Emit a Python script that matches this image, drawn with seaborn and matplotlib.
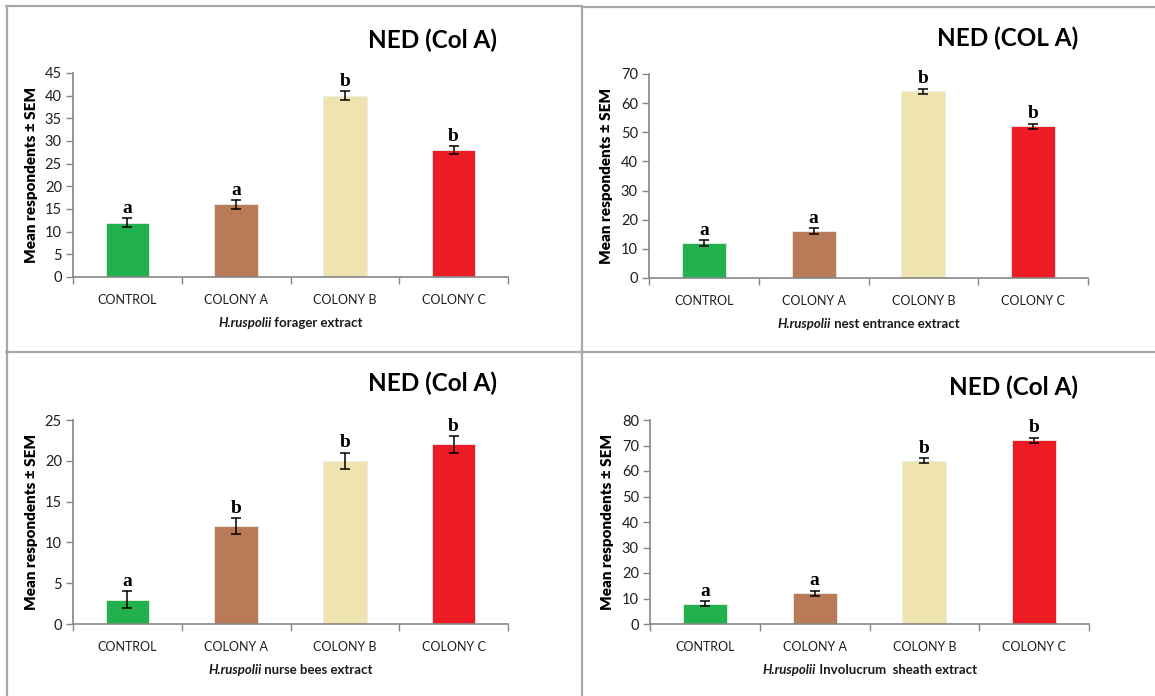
import matplotlib
matplotlib.use("Agg")
import matplotlib.pyplot as plt
from matplotlib.lines import Line2D
import seaborn as sns
import pandas as pd

# ---------------- data ----------------
categories = ["CONTROL", "COLONY A", "COLONY B", "COLONY C"]
colors = ["#22B14C", "#B97A57", "#EFE4B0", "#ED1C24"]

forager_mean = [12, 16, 40, 28]
forager_sem = [1, 1, 1, 0.9]
forager_letters = ["a", "a", "b", "b"]

nest_mean = [12, 16, 64, 52]
nest_sem = [1, 1, 1, 1]
nest_letters = ["a", "a", "b", "b"]

nurse_mean = [3, 12, 20, 22]
nurse_sem = [1, 1, 1, 1]
nurse_letters = ["a", "b", "b", "b"]

sheath_mean = [8, 12, 64, 72]
sheath_sem = [1, 1, 1, 1]
sheath_letters = ["a", "a", "b", "b"]

titles = ["NED (Col A)", "NED (COL A)", "NED (Col A)", "NED (Col A)"]
xlabel_italic = ["H.ruspolii", "H.ruspolii", "H.ruspolii", "H.ruspolii"]
xlabel_rest = [" forager extract", " nest entrance extract", " nurse bees extract",
               " Involucrum  sheath extract"]
ylabel = "Mean respondents \u00b1 SEM"
yticks_list = [list(range(0, 46, 5)), list(range(0, 71, 10)),
               list(range(0, 26, 5)), list(range(0, 81, 10))]

# ---------------- style ----------------
sns.set_theme(style="white")
plt.rcParams["font.family"] = ["Lato", "DejaVu Sans"]

W, H = 1155, 696
fig = plt.figure(figsize=(W / 100, H / 100), dpi=100)
fig.patch.set_facecolor("white")
renderer = fig.canvas.get_renderer()

# axes boxes in pixels: left, right, top, bottom
boxes = [(73, 508, 73, 277), (649, 1088, 74, 278),
         (73, 508, 420, 624), (650, 1089, 420, 624)]
title_pos = [(497, 40), (1078, 38), (497, 383), (1078, 387)]

datasets = [
    (forager_mean, forager_sem, forager_letters),
    (nest_mean, nest_sem, nest_letters),
    (nurse_mean, nurse_sem, nurse_letters),
    (sheath_mean, sheath_sem, sheath_letters),
]

axis_gray = "#868686"
tick_col = "#1e1e1e"

for k, ((mean, sem, letters), (l, r, t, b)) in enumerate(zip(datasets, boxes)):
    ax = fig.add_axes([l / W, 1 - b / H, (r - l) / W, (b - t) / H])
    df = pd.DataFrame({"cat": categories, "val": mean})
    sns.barplot(data=df, x="cat", y="val", hue="cat", order=categories,
                hue_order=categories, palette=colors, legend=False,
                width=0.4, ax=ax, errorbar=None, saturation=1,
                edgecolor="#e8f0e8", linewidth=0.6)
    ax.errorbar(range(len(categories)), mean, yerr=sem, fmt="none",
                ecolor="black", elinewidth=1.1, capsize=3.6, capthick=1.1,
                zorder=5)
    for i, (m, e, let) in enumerate(zip(mean, sem, letters)):
        ax.annotate(let, xy=(i, m + e), xytext=(0, 1.0), textcoords="offset points",
                    ha="center", va="bottom", fontfamily="Liberation Serif",
                    fontweight="bold", fontsize=14, color="black", zorder=6)
    yt = yticks_list[k]
    ax.set_ylim(0, yt[-1])
    ax.set_yticks(yt)
    ax.set_xlim(-0.5, len(categories) - 0.5)
    ax.set_xticks(range(len(categories)))
    ax.set_xticklabels(categories)
    ax.set_xticks([i - 0.5 for i in range(len(categories) + 1)], minor=True)
    ax.tick_params(axis="x", which="major", length=0, pad=12,
                   labelsize=9, labelcolor=tick_col)
    ax.tick_params(axis="x", which="minor", length=5, width=1.0,
                   color=axis_gray, direction="out", bottom=True)
    ax.tick_params(axis="y", which="major", length=5, width=1.0,
                   color=axis_gray, direction="out", left=True,
                   labelsize=10.5, labelcolor=tick_col, pad=3)
    for s in ["top", "right"]:
        ax.spines[s].set_visible(False)
    for s in ["left", "bottom"]:
        ax.spines[s].set_color(axis_gray)
        ax.spines[s].set_linewidth(1.2)
    ax.set_ylabel(ylabel, fontsize=11, fontweight="heavy", color="black")
    ax.yaxis.set_label_coords(-0.081, 0.5)
    ax.set_xlabel("")
    ax.set_facecolor("none")

    # x label: italic species name + regular rest, centred together
    ylab_px = b + 46
    t1 = fig.text(0, 1 - ylab_px / H, xlabel_italic[k], fontsize=9.5,
                  fontweight="bold", fontstyle="italic", color="#1a1a1a",
                  ha="left", va="center")
    t2 = fig.text(0, 1 - ylab_px / H, xlabel_rest[k], fontsize=9.5,
                  fontweight="bold", color="#1a1a1a", ha="left", va="center")
    w1 = t1.get_window_extent(renderer).width
    w2 = t2.get_window_extent(renderer).width
    cx = (l + r) / 2
    x0 = cx - (w1 + w2) / 2
    t1.set_x(x0 / W)
    t2.set_x((x0 + w1) / W)

    tx, ty = title_pos[k]
    fig.text(tx / W, 1 - ty / H, titles[k], ha="right", va="center",
             fontsize=17.5, fontweight="bold", color="black")

# panel borders
border = "#a8a8a8"
def hline(y, x0, x1):
    fig.add_artist(Line2D([x0 / W, x1 / W], [1 - y / H, 1 - y / H],
                          transform=fig.transFigure, color=border, lw=1.6))
def vline(x, y0, y1):
    fig.add_artist(Line2D([x / W, x / W], [1 - y0 / H, 1 - y1 / H],
                          transform=fig.transFigure, color=border, lw=1.6))

hline(6, 6, 582)
hline(7, 582, W)
hline(352, 6, W)
vline(7, 6, H)
vline(582, 6, H)

fig.savefig("out.png", dpi=100, facecolor="white")
